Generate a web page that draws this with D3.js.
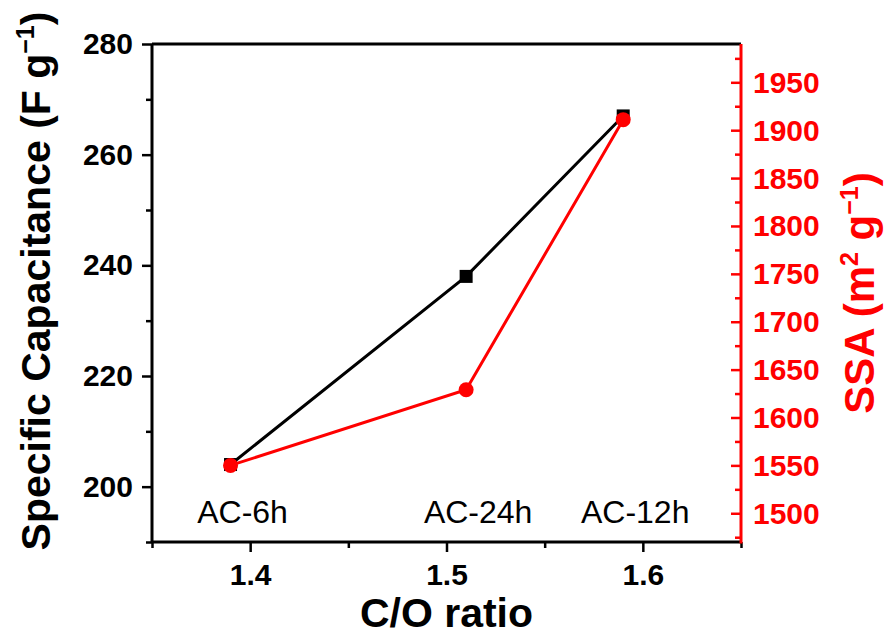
<!DOCTYPE html>
<html>
<head>
<meta charset="utf-8">
<script src="https://cdn.jsdelivr.net/npm/d3@7"></script>
<style>
  body { margin: 0; background: #fff; }
  svg { font-family: Arial, "Liberation Sans", sans-serif; }
  .axis path { display: none; }
  .axis line { stroke-width: 2.5; }
  .axis text { font-weight: bold; font-size: 30px; }
</style>
</head>
<body>
<svg width="887" height="635"></svg>
<script>
// C/O ratio of each sample
var samples = ["AC-6h", "AC-24h", "AC-12h"];
var coRatio = [1.39, 1.51, 1.59];
var capacitance = [204, 238, 267];     // F g-1
var ssa = [1550, 1629, 1911];          // m2 g-1

var xTicks = [1.4, 1.5, 1.6],
    xMinor = [1.35, 1.45, 1.55, 1.65],
    yLeftTicks = [200, 220, 240, 260, 280],
    yLeftMinor = [190, 210, 230, 250, 270],
    yRightTicks = [1500, 1550, 1600, 1650, 1700, 1750, 1800, 1850, 1900, 1950],
    yRightMinor = [1475, 1525, 1575, 1625, 1675, 1725, 1775, 1825, 1875, 1925, 1975];

var svg = d3.select("svg"),
    pLeft = 152, pRight = 741, pTop = 44, pBottom = 542;

var x = d3.scaleLinear().domain([1.35, 1.65]).range([pLeft, pRight]),
    yL = d3.scaleLinear().domain([190, 280]).range([pBottom, pTop]),
    yR = d3.scaleLinear().domain([1470, 1990]).range([pBottom, pTop]);

var red = "#ff0000";

// minor ticks first
svg.append("g").attr("class", "axis").attr("transform", "translate(0," + pBottom + ")")
    .call(d3.axisBottom(x).tickValues(xMinor).tickSize(6).tickFormat(""));
svg.append("g").attr("class", "axis").attr("transform", "translate(" + pLeft + ",0)")
    .call(d3.axisLeft(yL).tickValues(yLeftMinor).tickSize(6).tickFormat(""));
svg.append("g").attr("class", "axis").attr("transform", "translate(" + pRight + ",0)")
    .call(d3.axisLeft(yR).tickValues(yRightMinor).tickSize(6).tickFormat(""))
    .selectAll("line").attr("stroke", red);

// major ticks
var gx = svg.append("g").attr("class", "axis").attr("transform", "translate(0," + pBottom + ")")
    .call(d3.axisBottom(x).tickValues(xTicks).tickSize(10).tickPadding(12).tickFormat(d3.format(".1f")));
gx.selectAll("text").attr("fill", "#000");

var gl = svg.append("g").attr("class", "axis").attr("transform", "translate(" + pLeft + ",0)")
    .call(d3.axisLeft(yL).tickValues(yLeftTicks).tickSize(10).tickPadding(9));
gl.selectAll("text").attr("fill", "#000");

var gr = svg.append("g").attr("class", "axis").attr("transform", "translate(" + pRight + ",0)")
    .call(d3.axisLeft(yR).tickValues(yRightTicks).tickSize(10).tickFormat(""));
gr.selectAll("line").attr("stroke", red);

// right labels sit outside, ticks point inward
svg.append("g").selectAll("text")
  .data(yRightTicks)
  .enter().append("text")
    .attr("x", pRight + 12)
    .attr("y", function(d) { return yR(d); })
    .attr("dy", "0.35em")
    .attr("fill", red)
    .style("font-size", "30px")
    .style("font-weight", "bold")
    .text(function(d) { return d; });

// frame
svg.append("line").attr("x1", pLeft).attr("x2", pRight).attr("y1", pTop).attr("y2", pTop)
    .attr("stroke", "#000").attr("stroke-width", 3);
svg.append("line").attr("x1", pLeft).attr("x2", pRight).attr("y1", pBottom).attr("y2", pBottom)
    .attr("stroke", "#000").attr("stroke-width", 3);
svg.append("line").attr("x1", pLeft).attr("x2", pLeft).attr("y1", pTop).attr("y2", pBottom)
    .attr("stroke", "#000").attr("stroke-width", 3);
svg.append("line").attr("x1", pRight).attr("x2", pRight).attr("y1", pTop).attr("y2", pBottom + 1.5)
    .attr("stroke", red).attr("stroke-width", 3);

// sample labels
svg.append("g").selectAll("text")
  .data(samples)
  .enter().append("text")
    .attr("x", function(d, i) { return x(coRatio[i]) + 12; })
    .attr("y", 523)
    .attr("text-anchor", "middle")
    .style("font-size", "32px")
    .text(function(d) { return d; });

var capData = coRatio.map(function(c, i) { return {x: c, y: capacitance[i]}; });
var ssaData = coRatio.map(function(c, i) { return {x: c, y: ssa[i]}; });

// capacitance series
svg.append("path")
    .datum(capData)
    .attr("fill", "none")
    .attr("stroke", "#000")
    .attr("stroke-width", 3)
    .attr("d", d3.line().x(function(d) { return x(d.x); }).y(function(d) { return yL(d.y); }));

svg.append("g").selectAll("rect")
  .data(capData)
  .enter().append("rect")
    .attr("x", function(d) { return x(d.x) - 6.5; })
    .attr("y", function(d) { return yL(d.y) - 6.5; })
    .attr("width", 13)
    .attr("height", 13)
    .attr("fill", "#000");

// SSA series
svg.append("path")
    .datum(ssaData)
    .attr("fill", "none")
    .attr("stroke", red)
    .attr("stroke-width", 3)
    .attr("d", d3.line().x(function(d) { return x(d.x); }).y(function(d) { return yR(d.y); }));

svg.append("g").selectAll("circle")
  .data(ssaData)
  .enter().append("circle")
    .attr("cx", function(d) { return x(d.x); })
    .attr("cy", function(d) { return yR(d.y); })
    .attr("r", 7.5)
    .attr("fill", red);

// axis titles
svg.append("text")
    .attr("x", (pLeft + pRight) / 2)
    .attr("y", 627)
    .attr("text-anchor", "middle")
    .style("font-size", "41px")
    .style("font-weight", "bold")
    .text("C/O ratio");

var tl = svg.append("text")
    .attr("transform", "translate(50,281) rotate(-90)")
    .attr("text-anchor", "middle")
    .style("font-size", "41px")
    .style("font-weight", "bold");
tl.append("tspan").text("Specific Capacitance (F g");
tl.append("tspan").attr("dy", -16).style("font-size", "25px").text("\u22121");
tl.append("tspan").attr("dy", 16).text(")");

var tr = svg.append("text")
    .attr("transform", "translate(874," + (pTop + pBottom) / 2 + ") rotate(-90)")
    .attr("text-anchor", "middle")
    .attr("fill", red)
    .style("font-size", "42px")
    .style("font-weight", "bold");
tr.append("tspan").text("SSA (m");
tr.append("tspan").attr("dy", -16).style("font-size", "25px").text("2");
tr.append("tspan").attr("dy", 16).text(" g");
tr.append("tspan").attr("dy", -16).style("font-size", "25px").text("\u22121");
tr.append("tspan").attr("dy", 16).text(")");
</script>
</body>
</html>
